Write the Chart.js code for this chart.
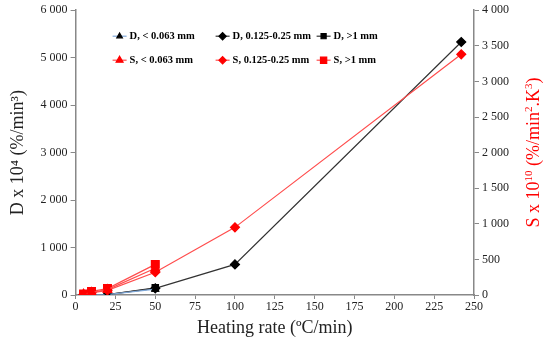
<!DOCTYPE html>
<html>
<head>
<meta charset="utf-8">
<script src="https://cdn.jsdelivr.net/npm/chart.js@4.4.1/dist/chart.umd.min.js"></script>
<style>
  html, body { margin: 0; padding: 0; background: #fff; }
  #wrap { width: 550px; height: 348px; }
</style>
</head>
<body>
<div id="wrap"><canvas id="chart"></canvas></div>
<script>
// heating rates (ºC/min)
const rateSmall = [5, 10, 20, 50];
const rateMid = [5, 10, 20, 50, 100, 242];
const rateLarge = [5, 10, 20, 50];

// D x 10^4 (%/min^3)
const dSmall = [2, 5, 8, 125];
const dMid = [2, 5, 8, 140, 645, 5330];
const dLarge = [3, 6, 10, 150];

// S x 10^10 (%/min^2.K^3)
const sSmall = [10, 35, 75, 375];
const sMid = [8, 30, 65, 320, 950, 3380];
const sLarge = [15, 50, 90, 430];

const labels = ['D, < 0.063 mm', 'D, 0.125-0.25 mm', 'D, >1 mm',
                'S, < 0.063 mm', 'S, 0.125-0.25 mm', 'S, >1 mm'];

function pts(xs, ys) {
    return xs.map((x, i) => ({ x: x, y: ys[i] }));
}

// format 6000 -> "6 000"
function spaced(v) {
    return String(v).replace(/\B(?=(\d{3})+(?!\d))/g, ' ');
}

const black = '#000000';
const grey = '#333333';
const red = '#ff0000';
const redLine = '#ff4d4d';
const serif = '"Liberation Serif", "Times New Roman", serif';

function ds(label, data, axis, line, marker, style, r) {
    return {
        label: label,
        data: data,
        yAxisID: axis,
        borderColor: line,
        borderWidth: 1.2,
        backgroundColor: marker,
        pointBackgroundColor: marker,
        pointBorderColor: marker,
        pointStyle: style,
        pointRadius: r,
        pointHoverRadius: r,
        order: axis === 'yD' ? 2 : 1,
        tension: 0
    };
}

// legend drawn inside the plot, 2 rows x 3 columns
const innerLegend = {
    id: 'innerLegend',
    afterDraw(chart) {
        const ctx = chart.ctx;
        const area = chart.chartArea;
        const colX = [area.left + 37, area.left + 140, area.left + 241];
        const rowY = [area.top + 26, area.top + 50];
        ctx.save();
        ctx.font = 'bold 10.5px ' + serif;
        ctx.textBaseline = 'middle';
        chart.data.datasets.forEach((d, i) => {
            const x = colX[i % 3];
            const y = rowY[Math.floor(i / 3)];
            ctx.strokeStyle = d.borderColor;
            ctx.lineWidth = 1.2;
            ctx.beginPath();
            ctx.moveTo(x, y);
            ctx.lineTo(x + 14, y);
            ctx.stroke();
            ctx.fillStyle = d.pointBackgroundColor;
            ctx.strokeStyle = d.pointBackgroundColor;
            Chart.helpers.drawPoint(ctx, { pointStyle: d.pointStyle, radius: d.pointRadius * 0.8, borderWidth: 1, rotation: 0 }, x + 7, y);
            ctx.fillStyle = '#000';
            ctx.fillText(d.label, x + 17, y + 0.5);
        });
        ctx.restore();
    }
};

// right axis title, read bottom to top with real superscripts
const rightTitle = {
    id: 'rightTitle',
    afterDraw(chart) {
        const ctx = chart.ctx;
        const area = chart.chartArea;
        const parts = [['S x 10', false], ['10', true], [' (%/min', false], ['2', true],
                       ['.K', false], ['3', true], [')', false]];
        const base = '18px ' + serif;
        const sup = '11px ' + serif;
        let total = 0;
        parts.forEach(p => { ctx.font = p[1] ? sup : base; total += ctx.measureText(p[0]).width; });
        ctx.save();
        ctx.translate(chart.width - 17, (area.top + area.bottom) / 2);
        ctx.rotate(-Math.PI / 2);
        ctx.fillStyle = '#ff0000';
        ctx.textBaseline = 'alphabetic';
        let x = -total / 2;
        parts.forEach(p => {
            ctx.font = p[1] ? sup : base;
            ctx.fillText(p[0], x, p[1] ? -1 : 6);
            x += ctx.measureText(p[0]).width;
        });
        ctx.restore();
    }
};

new Chart(document.getElementById('chart'), {
    type: 'line',
    data: {
        datasets: [
            ds(labels[0], pts(rateSmall, dSmall), 'yD', '#7fa8d8', black, 'triangle', 4),
            ds(labels[1], pts(rateMid, dMid), 'yD', grey, black, 'rectRot', 4.5),
            ds(labels[2], pts(rateLarge, dLarge), 'yD', grey, black, 'rect', 4.5),
            ds(labels[3], pts(rateSmall, sSmall), 'yS', redLine, red, 'triangle', 5),
            ds(labels[4], pts(rateMid, sMid), 'yS', redLine, red, 'rectRot', 4.5),
            ds(labels[5], pts(rateLarge, sLarge), 'yS', redLine, red, 'rect', 5.5)
        ]
    },
    options: {
        responsive: true,
        maintainAspectRatio: false,
        animation: false,
        layout: { padding: { top: 8, right: 38, left: 7, bottom: 9 } },
        plugins: {
            legend: { display: false },
            tooltip: { enabled: false }
        },
        scales: {
            x: {
                type: 'linear',
                min: 0,
                max: 250,
                ticks: {
                    stepSize: 25,
                    color: '#222',
                    font: { family: serif, size: 12 },
                    padding: 1
                },
                grid: { drawOnChartArea: false, color: '#888', tickLength: 4 },
                border: { color: '#888', width: 1.5 },
                title: {
                    display: true,
                    text: 'Heating rate (ºC/min)',
                    color: '#222',
                    font: { family: serif, size: 18 },
                    padding: { top: 2, bottom: 0 }
                }
            },
            yD: {
                type: 'linear',
                position: 'left',
                min: 0,
                max: 6000,
                ticks: {
                    stepSize: 1000,
                    color: '#222',
                    font: { family: serif, size: 12 },
                    callback: v => spaced(v)
                },
                grid: { drawOnChartArea: false, color: '#888', tickLength: 5 },
                border: { color: '#888', width: 1.5 },
                title: {
                    display: true,
                    text: 'D x 10⁴ (%/min³)',
                    color: '#222',
                    font: { family: serif, size: 18 },
                    padding: { top: 0, bottom: 9 }
                }
            },
            yS: {
                type: 'linear',
                position: 'right',
                min: 0,
                max: 4000,
                ticks: {
                    stepSize: 500,
                    color: '#222',
                    font: { family: serif, size: 12 },
                    callback: v => spaced(v)
                },
                grid: { drawOnChartArea: false, color: '#888', tickLength: 5 },
                border: { color: '#888', width: 1.5 }
            }
        }
    },
    plugins: [innerLegend, rightTitle]
});
</script>
</body>
</html>
